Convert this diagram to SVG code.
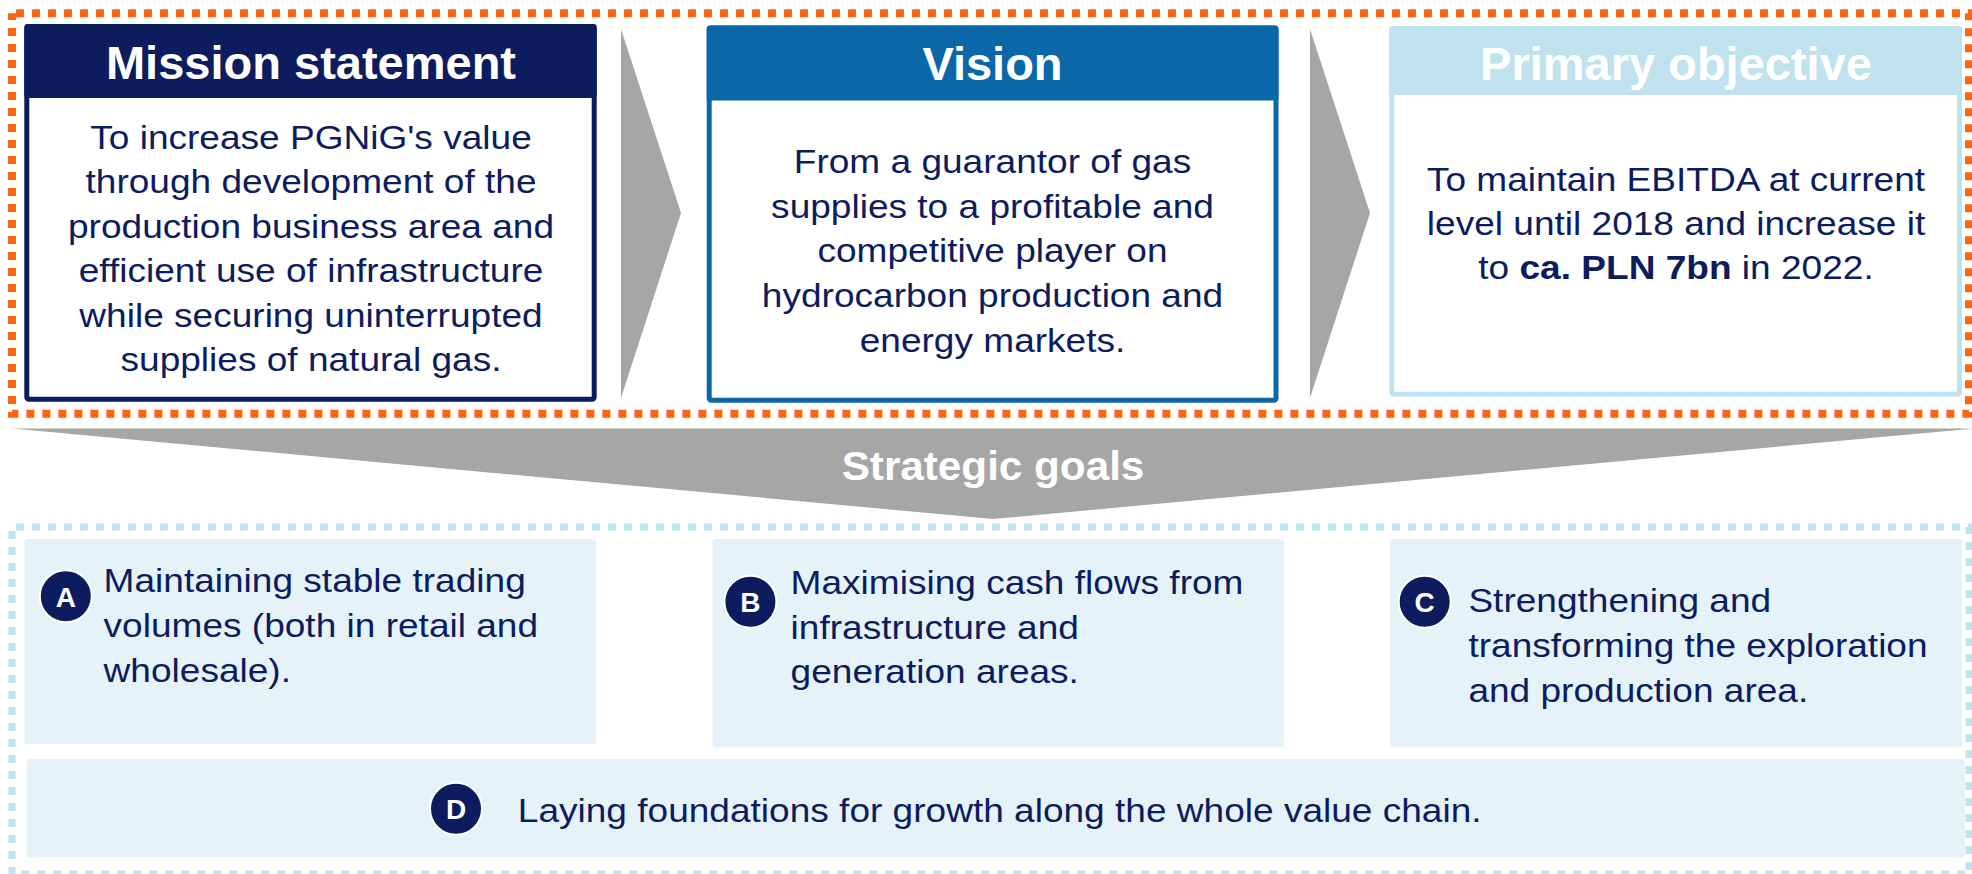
<svg xmlns="http://www.w3.org/2000/svg" width="1972" height="874" viewBox="0 0 1972 874">
  <style>
    .title { font-family: "Liberation Sans", Arial, sans-serif; font-weight: bold; font-size: 47px; fill: #ffffff; text-anchor: middle; }
    .body { font-family: "Liberation Sans", Arial, sans-serif; font-size: 34px; fill: #0c1c5e; }
    .mid { text-anchor: middle; }
    .badge { fill: #0c1c5e; stroke: #ffffff; stroke-width: 2; }
    .badge-txt { font-family: "Liberation Sans", Arial, sans-serif; font-weight: bold; font-size: 28px; fill: #ffffff; text-anchor: middle; }
    .goal { fill: #e5f3f9; }
    .chev { fill: #a6a6a6; }
  </style>

  <!-- frames -->
  <rect id="frame-top" x="12" y="13.3" width="1957" height="400.4" fill="none" stroke="#ff640f" stroke-width="8" stroke-dasharray="8 8" stroke-dashoffset="12"/>
  <rect id="frame-bottom" x="12" y="527" width="1957" height="347" fill="none" stroke="#c0e4ef" stroke-width="7" stroke-dasharray="8 8" stroke-dashoffset="12"/>

  <!-- connectors: chevrons between the top boxes and the down banner -->
  <g id="connectors">
    <polygon class="chev" points="621,29 681,213 621,398"/>
    <polygon class="chev" points="1310,29 1370,213 1310,398"/>
    <polygon class="chev" points="12,428.5 1974,428.5 993,519"/>
    <g transform="translate(993 480) scale(1.03 1)">
      <text class="title" x="0" y="0" style="font-size:41px">Strategic goals</text>
    </g>
  </g>

  <!-- Mission statement -->
  <g id="mission">
    <rect x="26.8" y="26.5" width="567.4" height="372.7" rx="2" fill="#ffffff" stroke="#0c1c5e" stroke-width="5"/>
    <rect x="24.3" y="24" width="572.4" height="74" rx="3" fill="#0c1c5e"/>
    <text class="title" x="311" y="79">Mission statement</text>
    <g transform="translate(311 0) scale(1.09 1)">
      <text class="body mid" x="0" y="149">To increase PGNiG's value</text>
      <text class="body mid" x="0" y="193.5">through development of the</text>
      <text class="body mid" x="0" y="238">production business area and</text>
      <text class="body mid" x="0" y="282.5">efficient use of infrastructure</text>
      <text class="body mid" x="0" y="327">while securing uninterrupted</text>
      <text class="body mid" x="0" y="371.5">supplies of natural gas.</text>
    </g>
  </g>

  <!-- Vision -->
  <g id="vision">
    <rect x="709.2" y="28" width="566.8" height="372.2" rx="2" fill="#ffffff" stroke="#0a68a9" stroke-width="5"/>
    <rect x="706.7" y="25.5" width="571.8" height="75" rx="3" fill="#0a68a9"/>
    <text class="title" x="992.5" y="80">Vision</text>
    <g transform="translate(992.5 0) scale(1.09 1)">
      <text class="body mid" x="0" y="173.3">From a guarantor of gas</text>
      <text class="body mid" x="0" y="217.9">supplies to a profitable and</text>
      <text class="body mid" x="0" y="262.5">competitive player on</text>
      <text class="body mid" x="0" y="307.1">hydrocarbon production and</text>
      <text class="body mid" x="0" y="351.7">energy markets.</text>
    </g>
  </g>

  <!-- Primary objective -->
  <g id="primary-objective">
    <rect x="1391.8" y="28.5" width="567.7" height="365.7" rx="2" fill="#ffffff" stroke="#bfe2ee" stroke-width="5"/>
    <rect x="1389.3" y="26" width="572.7" height="69" rx="3" fill="#bfe2ee"/>
    <text class="title" x="1676" y="80">Primary objective</text>
    <g transform="translate(1676 0) scale(1.09 1)">
      <text class="body mid" x="0" y="190.7">To maintain EBITDA at current</text>
      <text class="body mid" x="0" y="235">level until 2018 and increase it</text>
      <text class="body mid" x="0" y="279.3">to <tspan font-weight="bold">ca. PLN 7bn</tspan> in 2022.</text>
    </g>
  </g>

  <!-- Goal A -->
  <g id="goal-a">
    <rect class="goal" x="24.5" y="539" width="571.5" height="205" rx="3"/>
    <circle class="badge" cx="65.8" cy="596.3" r="26"/>
    <text class="badge-txt" x="65.8" y="606.5">A</text>
    <g transform="translate(103.6 0) scale(1.09 1)">
      <text class="body" x="0" y="591.7">Maintaining stable trading</text>
      <text class="body" x="0" y="636.7">volumes (both in retail and</text>
      <text class="body" x="0" y="681.7">wholesale).</text>
    </g>
  </g>

  <!-- Goal B -->
  <g id="goal-b">
    <rect class="goal" x="712.5" y="539" width="571.5" height="208.5" rx="3"/>
    <circle class="badge" cx="750.4" cy="601.7" r="26"/>
    <text class="badge-txt" x="750.4" y="611.9">B</text>
    <g transform="translate(790.6 0) scale(1.09 1)">
      <text class="body" x="0" y="594">Maximising cash flows from</text>
      <text class="body" x="0" y="639">infrastructure and</text>
      <text class="body" x="0" y="683.3">generation areas.</text>
    </g>
  </g>

  <!-- Goal C -->
  <g id="goal-c">
    <rect class="goal" x="1390" y="539" width="572" height="208.5" rx="3"/>
    <circle class="badge" cx="1424.7" cy="601.7" r="26"/>
    <text class="badge-txt" x="1424.7" y="611.9">C</text>
    <g transform="translate(1468.4 0) scale(1.09 1)">
      <text class="body" x="0" y="612.3">Strengthening and</text>
      <text class="body" x="0" y="657.3">transforming the exploration</text>
      <text class="body" x="0" y="701.7">and production area.</text>
    </g>
  </g>

  <!-- Goal D -->
  <g id="goal-d">
    <rect class="goal" x="26.7" y="759" width="1938.3" height="98.5" rx="3"/>
    <circle class="badge" cx="456" cy="808.8" r="26"/>
    <text class="badge-txt" x="456" y="819">D</text>
    <g transform="translate(517.8 0) scale(1.09 1)">
      <text class="body" x="0" y="821.7">Laying foundations for growth along the whole value chain.</text>
    </g>
  </g>
</svg>
